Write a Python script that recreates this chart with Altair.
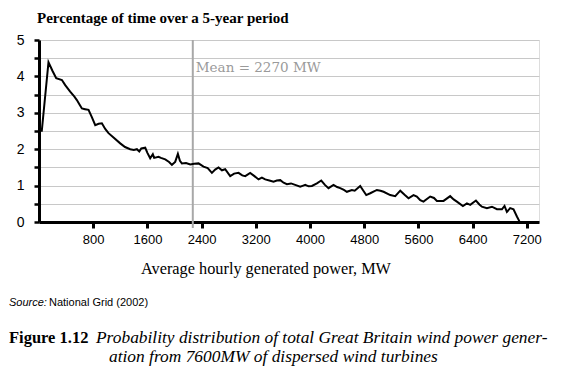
import altair as alt
import pandas as pd

# ---- data ----
power_mw = [40, 140, 200, 254, 338, 387, 460, 520, 559, 600, 633, 680, 731, 780, 830, 880, 928, 980,
            1026, 1100, 1199, 1270, 1346, 1400, 1445, 1480, 1510, 1568, 1600, 1641, 1680, 1700, 1764,
            1800, 1863, 1920, 1962, 2010, 2050, 2080, 2109, 2170, 2232, 2290, 2355, 2428, 2490, 2552,
            2600, 2650, 2700, 2748, 2822, 2880, 2945, 3000, 3044, 3117, 3180, 3240, 3290, 3339, 3400,
            3462, 3510, 3561, 3610, 3659, 3720, 3781, 3855, 3900, 3929, 3980, 4028, 4102, 4166, 4220,
            4273, 4347, 4400, 4446, 4500, 4544, 4618, 4660, 4741, 4790, 4830, 4889, 4987, 5040, 5086,
            5184, 5258, 5332, 5400, 5454, 5528, 5577, 5627, 5675, 5774, 5830, 5873, 5971, 6069, 6120,
            6168, 6257, 6316, 6365, 6449, 6500, 6537, 6611, 6685, 6759, 6833, 6871, 6906, 6955, 7004,
            7054, 7093]
pct_time = [2.48, 4.39, 4.15, 3.95, 3.90, 3.76, 3.58, 3.45, 3.35, 3.22, 3.12, 3.10, 3.08, 2.88, 2.66,
            2.70, 2.71, 2.55, 2.44, 2.32, 2.16, 2.06, 2.00, 1.98, 2.00, 1.94, 2.02, 2.04, 1.90, 1.75,
            1.86, 1.76, 1.79, 1.76, 1.72, 1.65, 1.57, 1.65, 1.87, 1.68, 1.61, 1.62, 1.58, 1.60, 1.61,
            1.52, 1.48, 1.35, 1.44, 1.50, 1.42, 1.45, 1.26, 1.33, 1.35, 1.28, 1.26, 1.35, 1.26, 1.17,
            1.22, 1.17, 1.14, 1.11, 1.14, 1.15, 1.08, 1.04, 1.06, 1.02, 0.97, 1.00, 1.02, 0.98, 0.99,
            1.06, 1.14, 1.02, 0.93, 1.02, 0.96, 0.93, 0.88, 0.83, 0.88, 0.86, 0.99, 0.85, 0.74, 0.79,
            0.88, 0.86, 0.83, 0.74, 0.71, 0.86, 0.74, 0.65, 0.74, 0.70, 0.60, 0.56, 0.70, 0.66, 0.58,
            0.58, 0.71, 0.62, 0.56, 0.44, 0.51, 0.47, 0.59, 0.48, 0.42, 0.38, 0.42, 0.35, 0.35, 0.44,
            0.28, 0.38, 0.35, 0.15, 0.01]
x_ticks = [800, 1600, 2400, 3200, 4000, 4800, 5600, 6400, 7200]
y_ticks = [0, 0.5, 1, 1.5, 2, 2.5, 3, 3.5, 4, 4.5, 5]
mean_mw = [2270]
mean_label = ["Mean = 2270 MW"]

title_text = "Percentage of time over a 5-year period"
x_title = "Average hourly generated power, MW"
source_italic = "Source:"
source_rest = "National Grid (2002)"
fig_label = "Figure 1.12"
fig_line1 = "Probability distribution of total Great Britain wind power gener-"
fig_line2 = "ation from 7600MW of dispersed wind turbines"

df = pd.DataFrame({"power": power_mw, "pct": pct_time})
mean_df = pd.DataFrame({"mean": mean_mw, "label": mean_label})

W, H = 500, 182

x_scale = alt.Scale(domain=[0, 7380], nice=False, zero=True)
y_scale = alt.Scale(domain=[0, 5], nice=False)

line = alt.Chart(df).mark_line(color="black", strokeWidth=2).encode(
    x=alt.X("power:Q", scale=x_scale,
            axis=alt.Axis(values=x_ticks, format="d", title=None, grid=False, domainColor="black",
                          domainWidth=3, tickColor="black", tickWidth=3, tickSize=6,
                          labelFont="Liberation Sans", labelFontSize=13, labelColor="black",
                          labelPadding=5, labelFlush=False)),
    y=alt.Y("pct:Q", scale=y_scale,
            axis=alt.Axis(values=y_ticks, title=None, grid=True, gridColor="#c8c8c8",
                          gridWidth=1, domainColor="black", domainWidth=3,
                          tickColor="black", tickWidth=2.5, tickSize=5,
                          labelExpr="datum.value % 1 == 0 ? format(datum.value, 'd') : ''",
                          labelFont="Liberation Sans", labelFontSize=14, labelColor="black",
                          labelPadding=10, labelFlush=False)),
)

mean_rule = alt.Chart(mean_df).mark_rule(color="#a8a8a8", strokeWidth=2).encode(
    x=alt.X("mean:Q", scale=x_scale), y=alt.value(0), y2=alt.value(H + 6)
)

mean_text = alt.Chart(mean_df).mark_text(
    align="left", baseline="middle", dx=3, font="DejaVu Serif", fontSize=13.5, color="#9a9a9a"
).encode(x=alt.X("mean:Q", scale=x_scale), y=alt.value(28), text="label:N")


def label(text, x, y, font, size, weight="normal", style="normal", align="left",
          baseline="alphabetic", color="black"):
    return alt.Chart(alt.Data(values=[{"t": text}])).mark_text(
        align=align, baseline=baseline, font=font, fontSize=size, fontWeight=weight,
        fontStyle=style, color=color
    ).encode(x=alt.value(x), y=alt.value(y), text="t:N")


texts = [
    label(title_text, -2, -17, "Liberation Serif", 15, weight="bold"),
    label(x_title, 227, 234, "Liberation Serif", 16.3, align="center"),
    label(source_italic, -30, 263, "Liberation Sans", 11, style="italic", baseline="middle"),
    label(source_rest, 10, 263, "Liberation Sans", 11, baseline="middle"),
    label(fig_label, -30, 303, "Liberation Serif", 16.5, weight="bold"),
    label(fig_line1, 57, 303, "Liberation Serif", 17.4, style="italic"),
    label(fig_line2, 70, 322, "Liberation Serif", 17.4, style="italic"),
]

chart = alt.layer(mean_rule, line, mean_text, *texts).properties(
    width=W, height=H,
    autosize=alt.AutoSizeParams(type="none"),
    padding={"left": 31, "top": 32, "right": 27, "bottom": 155},
).configure_view(stroke="black", strokeWidth=2.5).configure(background="white")

chart.save("out.html", embed_options={"renderer": "svg", "actions": False})
